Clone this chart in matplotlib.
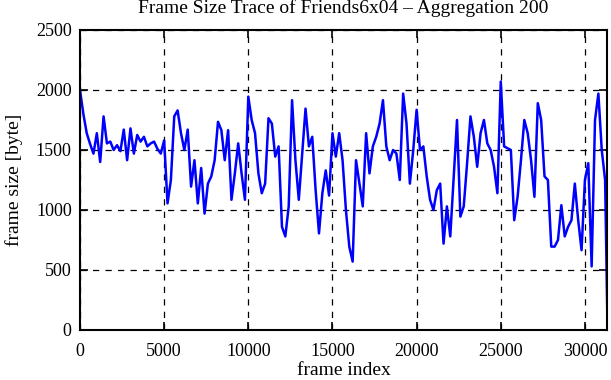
import matplotlib
matplotlib.use("Agg")
import matplotlib.pyplot as plt

# frame size trace, one value per block of 200 frames
n_frames = 31330
frame_index = list(range(0, n_frames, 200)) + [n_frames]
frame_size = [
    2000, 1800, 1640, 1550, 1470, 1640, 1400, 1780, 1555, 1570,
    1500, 1540, 1490, 1670, 1415, 1680, 1470, 1625, 1570, 1610,
    1530, 1555, 1570, 1510, 1470, 1580, 1055, 1250, 1780, 1830,
    1640, 1500, 1670, 1195, 1415, 1055, 1350, 970, 1220, 1280,
    1415, 1735, 1665, 1415, 1665, 1085, 1305, 1555, 1305, 1085,
    1945, 1750, 1640, 1305, 1140, 1220, 1765, 1720, 1445, 1530,
    860, 780, 1030, 1915, 1415, 1085, 1470, 1845, 1530, 1610,
    1165, 805, 1140, 1330, 1120, 1640, 1445, 1640, 1415, 1000,
    695, 570, 1415, 1220, 1030, 1640, 1305, 1530, 1610, 1720,
    1915, 1530, 1415, 1500, 1470, 1250, 1970, 1720, 1220, 1500,
    1835, 1500, 1530, 1280, 1085, 1000, 1165, 1220, 720, 1030,
    780, 1270, 1750, 945, 1030, 1390, 1780, 1610, 1360, 1640,
    1750, 1555, 1500, 1360, 1140, 2070, 1530, 1515, 1500, 915,
    1110, 1415, 1750, 1640, 1415, 1110, 1890, 1750, 1280, 1250,
    695, 695, 750, 1040, 780, 860, 915, 1220, 915, 665,
    1250, 1390, 530, 1750, 1970, 1500, 1250, 140,
]

x_ticks = [0, 5000, 10000, 15000, 20000, 25000, 30000]
y_ticks = [0, 500, 1000, 1500, 2000, 2500]

plt.rcParams['font.family'] = ['Liberation Serif', 'DejaVu Serif']

fig = plt.figure(figsize=(6.11, 3.8), dpi=100)
ax = fig.add_axes([80 / 611, 50 / 380, 527.3 / 611, 300 / 380])

ax.plot(frame_index, frame_size, color='#0000ff', linewidth=1.8)

ax.set_xlim(0, n_frames)
ax.set_ylim(0, 2500)
ax.set_xticks(x_ticks)
ax.set_yticks(y_ticks)
ax.grid(True, color='black', linestyle=(0, (5, 5)), linewidth=0.9)
ax.tick_params(direction='in', length=6, width=1.2, top=True, right=True,
               labelsize=13)
ax.tick_params(axis='x', pad=9)
ax.tick_params(axis='y', pad=6)
for s in ax.spines.values():
    s.set_linewidth(1.5)

ax.set_title("Frame Size Trace of Friends6x04 \u2013 Aggregation 200",
             fontsize=14, pad=12)
ax.set_xlabel("frame index", fontsize=14, labelpad=2)
ax.set_ylabel("frame size [byte]", fontsize=14, labelpad=9)

fig.savefig("out.png", dpi=100)
